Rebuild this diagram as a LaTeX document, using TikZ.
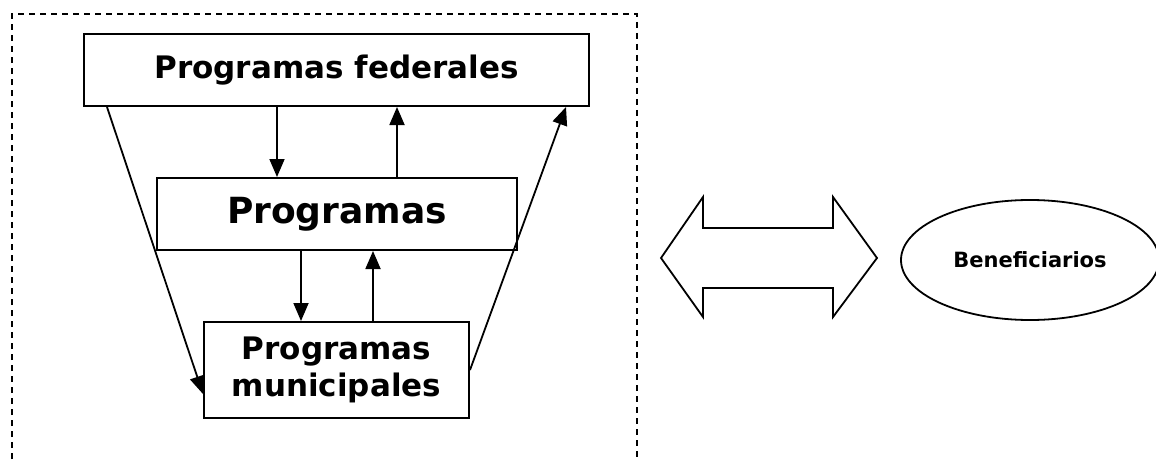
\documentclass[tikz,border=0pt]{standalone}
\usepackage{fontspec}
\setmainfont{DejaVu Sans}
\usetikzlibrary{arrows.meta,shapes.geometric,calc}
\begin{document}
\begin{tikzpicture}[x=1pt,y=-1pt,
  boxnode/.style={draw,line width=2pt,rectangle,inner sep=0pt,align=center,font=\bfseries},
  arr/.style={line width=1.8pt,-{Triangle[length=18pt,width=15pt]}},
  frame/.style={line width=1.4pt,dash pattern=on 6pt off 5pt}]
\useasboundingbox (0,0) rectangle (1156,460);
% dashed frame
\coordinate (fa) at (12,470);
\coordinate (fb) at (12,14);
\coordinate (fc) at (637,14);
\coordinate (fd) at (637,470);
\draw[frame] (fa) -- (fb) -- (fc) -- (fd);
% boxes
\node[boxnode,minimum width=505pt,minimum height=72pt,font=\bfseries\fontsize{31}{36}\selectfont] (fed) at (336.5,70) {Programas federales};
\node[boxnode,minimum width=360pt,minimum height=72pt,font=\bfseries\fontsize{36}{42}\selectfont] (prog) at (337,214) {Programas};
\node[boxnode,minimum width=265pt,minimum height=96pt,font=\bfseries\fontsize{31}{37}\selectfont] (mun) at (336.5,370) {Programas\\municipales};
% vertical arrows
\coordinate (x1) at (277,0);
\coordinate (x2) at (397,0);
\coordinate (x3) at (301,0);
\coordinate (x4) at (373,0);
\draw[arr] (fed.south -| x1) -- (prog.north -| x1);
\draw[arr] (prog.north -| x2) -- (fed.south -| x2);
\draw[arr] (prog.south -| x3) -- (mun.north -| x3);
\draw[arr] (mun.north -| x4) -- (prog.south -| x4);
% diagonal arrows
\coordinate (d1s) at ($(fed.south west)+(24,0)$);
\coordinate (d1e) at ($(mun.south west)+(0,-25)$);
\coordinate (d2e) at ($(fed.south east)+(-24,0)$);
\draw[arr] (d1s) -- (d1e);
\draw[arr] (mun.east) -- (d2e);
% double arrow
\draw[line width=1.8pt,line join=miter] (661,258) -- (703,197) -- (703,228) -- (833,228) -- (833,197) -- (877,258) -- (833,317) -- (833,288) -- (703,288) -- (703,317) -- cycle;
% ellipse
\node[draw,line width=1.8pt,ellipse,minimum width=258pt,minimum height=120pt,inner sep=0pt,font=\bfseries\fontsize{21}{25}\selectfont] (ben) at (1030,260) {Beneficiarios};
\end{tikzpicture}
\end{document}
